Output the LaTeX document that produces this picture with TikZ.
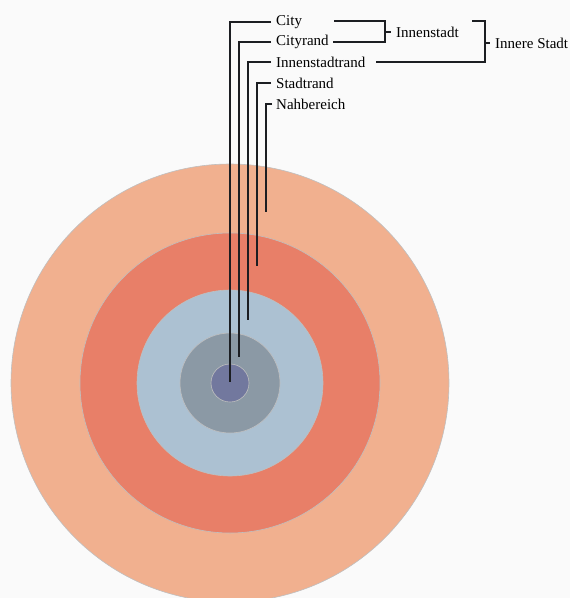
\documentclass[tikz,border=0pt]{standalone}
\usepackage{fontspec}
\setmainfont{Liberation Serif}
\definecolor{ringA}{HTML}{F1B08F}
\definecolor{ringB}{HTML}{E87F68}
\definecolor{ringC}{HTML}{ACC1D2}
\definecolor{ringD}{HTML}{8B99A5}
\definecolor{ringE}{HTML}{72789E}
\definecolor{leadc}{HTML}{1C1E22}
\begin{document}
\begin{tikzpicture}[x=1pt,y=-1pt,
  ring/.style={draw=black!25, line width=0.6pt},
  lead/.style={draw=leadc, line width=2pt},
  lab/.style={anchor=west, inner sep=0pt, font=\fontsize{15}{18}\selectfont}]
\useasboundingbox (0,0) rectangle (570,598);
\fill[white!98!black] (0,0) rectangle (570,598);
\begin{scope}
\clip (0,0) rectangle (570,598);
\path[ring, fill=ringA] (230,383) circle (219);
\path[ring, fill=ringB] (230,383) circle (150);
\path[ring, fill=ringC] (230,383) circle (93);
\path[ring, fill=ringD] (230,383) circle (50);
\path[ring, fill=ringE] (230,383) circle (19);
\end{scope}
% labels
\node[lab] (city) at (276,22) {City};
\node[lab] (cityrand) at (276,42) {Cityrand};
\node[lab] (istrand) at (276,62) {Innenstadtrand};
\node[lab] (strand) at (276,83) {Stadtrand};
\node[lab] (nah) at (276,104) {Nahbereich};
\node[lab] (innen) at (396,32) {Innenstadt};
\node[lab] (innere) at (495,43) {Innere Stadt};
% endpoints
\coordinate (e1) at (230,382);
\coordinate (e2) at (239,357);
\coordinate (e3) at (248,320);
\coordinate (e4) at (257,266);
\coordinate (e5) at (266,212);
\coordinate (b1) at (334,21);
\coordinate (b2) at (472,21);
% leaders
\draw[lead] ([xshift=-5pt]city.west) -- (230,22) -- (e1);
\draw[lead] ([xshift=-5pt]cityrand.west) -- (239,42) -- (e2);
\draw[lead] ([xshift=-5pt]istrand.west) -- (248,62) -- (e3);
\draw[lead] ([xshift=-5pt]strand.west) -- (257,83) -- (e4);
\draw[lead] ([xshift=-4pt]nah.west) -- (266,104) -- (e5);
% brackets
\draw[lead] (b1) -- (385,21) -- (385,42) -- ([xshift=4pt]cityrand.east);
\draw[lead] (385,32) -- ([xshift=-5pt]innen.west);
\draw[lead] (b2) -- (485,21) -- (485,62) -- ([xshift=10pt]istrand.east);
\draw[lead] (485,43) -- ([xshift=-5pt]innere.west);
\end{tikzpicture}
\end{document}
